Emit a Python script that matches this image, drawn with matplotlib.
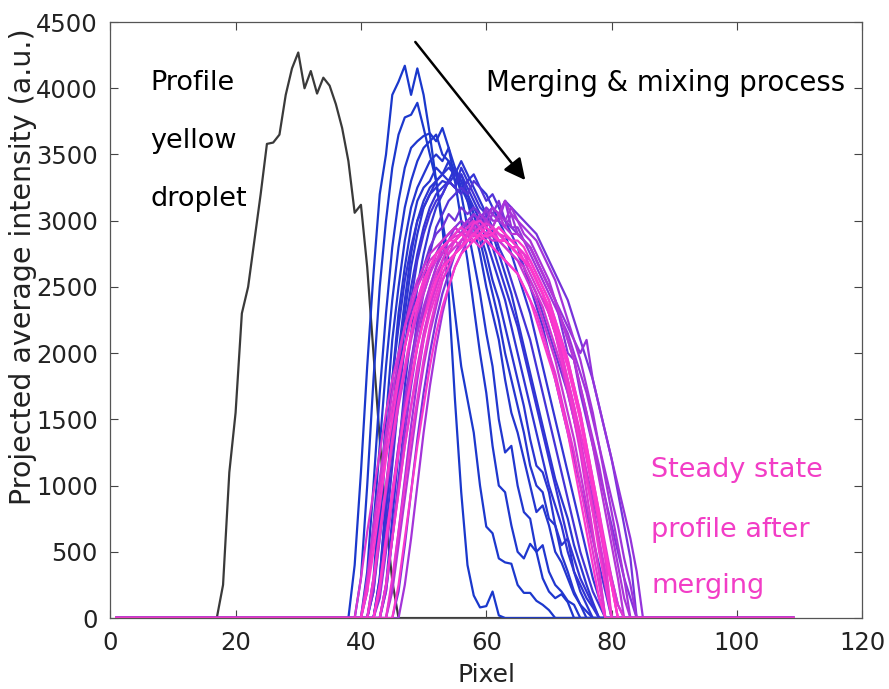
import numpy as np
import matplotlib
matplotlib.use("Agg")
import matplotlib.pyplot as plt
from matplotlib.colors import LinearSegmentedColormap
from matplotlib.patches import FancyArrowPatch

# ---------------- data ----------------
pixels = np.arange(1, 110)

# yellow droplet profile (nonzero part starts at pixel 17)
black_start = 17
black_vals = [0, 250, 1100, 1550, 2300, 2500, 2850, 3200, 3580, 3590, 3650, 3950,
              4150, 4270, 4000, 4130, 3960, 4080, 4020, 3880, 3700, 3450, 3060,
              3120, 2650, 2000, 1350, 750, 280, 0]

# merging & mixing profiles (values from the start pixel on)
c00 = [0, 400, 1100, 1900, 2600, 3200, 3500, 3950, 4050, 4170, 3950, 4150, 3950, 3650,
       3300, 2950, 2450, 1650, 950, 400, 170, 80, 90, 200, 20, 0]
c01 = [0, 300, 1000, 1800, 2500, 3000, 3400, 3650, 3780, 3800, 3890, 3700, 3500, 3300,
       3000, 2700, 2300, 1900, 1650, 1400, 1000, 690, 640, 450, 420, 410, 250, 190, 190,
       130, 100, 60, 0]
c02 = [0, 350, 1000, 1700, 2300, 2800, 3150, 3400, 3550, 3600, 3640, 3660, 3600, 3700,
       3550, 3300, 3000, 2700, 2350, 2000, 1700, 1300, 1000, 950, 700, 500, 450, 560, 500,
       300, 200, 150, 180, 120, 0]
c03 = [0, 200, 700, 1300, 1900, 2400, 2800, 3100, 3300, 3450, 3550, 3600, 3650, 3500,
       3450, 3380, 3200, 2950, 2700, 2450, 2150, 1900, 1500, 1250, 1300, 1000, 800, 750,
       500, 550, 350, 250, 200, 130, 100, 0]
c04 = [0, 300, 900, 1500, 2100, 2500, 2850, 3100, 3250, 3350, 3450, 3500, 3450, 3550,
       3400, 3300, 3150, 2950, 2750, 2500, 2300, 2100, 1800, 1550, 1400, 1200, 1000, 800,
       850, 700, 500, 420, 300, 180, 100, 0]
c05 = [0, 200, 700, 1300, 1800, 2300, 2650, 2950, 3150, 3250, 3300, 3400, 3350, 3450,
       3300, 3350, 3200, 3050, 2850, 2650, 2450, 2250, 2000, 1800, 1600, 1400, 1150, 1000,
       950, 750, 700, 480, 350, 200, 100, 50, 0]
c06 = [0, 300, 900, 1500, 2000, 2400, 2750, 3000, 3150, 3250, 3300, 3350, 3300, 3400,
       3250, 3150, 3050, 2900, 2750, 2550, 2400, 2200, 2000, 1800, 1600, 1350, 1150, 1100,
       950, 700, 550, 600, 350, 200, 100, 0]
c07 = [0, 250, 750, 1300, 1800, 2200, 2550, 2800, 3000, 3100, 3200, 3250, 3300, 3280,
       3350, 3300, 3200, 3100, 3000, 2850, 2700, 2550, 2400, 2200, 2000, 1800, 1600, 1400,
       1200, 1000, 850, 700, 500, 350, 250, 150, 80, 0]
c08 = [0, 250, 800, 1300, 1800, 2200, 2500, 2750, 2950, 3100, 3200, 3250, 3300, 3250,
       3350, 3250, 3150, 3050, 2950, 2800, 2650, 2500, 2350, 2200, 2000, 1800, 1600, 1400,
       1200, 1000, 800, 600, 450, 300, 200, 100, 0]
c09 = [0, 200, 650, 1150, 1650, 2050, 2400, 2700, 2900, 3050, 3150, 3200, 3300, 3250,
       3200, 3300, 3200, 3100, 3050, 2950, 2800, 2700, 2550, 2400, 2250, 2100, 1900, 1700,
       1500, 1300, 1100, 900, 700, 500, 350, 200, 100, 0]
c10 = [0, 200, 600, 1000, 1400, 1750, 2050, 2300, 2500, 2650, 2800, 2900, 2950, 3050,
       3000, 3100, 3050, 3100, 3050, 3000, 2950, 2900, 2850, 2800, 2750, 2650, 2550, 2450,
       2300, 2150, 2000, 1850, 1700, 1500, 1300, 1100, 900, 700, 500, 300, 100, 0]
c11 = [0, 150, 500, 900, 1300, 1650, 1950, 2200, 2450, 2600, 2750, 2850, 2900, 2950,
       3000, 2950, 3050, 3000, 3100, 3050, 3150, 3000, 2950, 2900, 2850, 2800, 2700, 2600,
       2500, 2400, 2200, 2000, 1950, 1700, 1500, 1300, 1100, 900, 700, 500, 300, 150, 0]
c12 = [0, 200, 600, 1000, 1400, 1750, 2050, 2300, 2500, 2650, 2800, 2850, 2950, 2900,
       3000, 3050, 3000, 3080, 3000, 3000, 3150, 2950, 2950, 2850, 2800, 2700, 2600, 2500,
       2400, 2300, 2200, 2100, 2000, 2100, 1800, 1600, 1400, 1200, 1000, 800, 600, 350, 0]
c13 = [0, 250, 650, 1050, 1450, 1800, 2100, 2350, 2550, 2700, 2800, 2850, 2900, 2950,
       2900, 3000, 2950, 3050, 3000, 2950, 3050, 2900, 2850, 2750, 2650, 2550, 2450, 2350,
       2250, 2150, 2000, 1850, 1700, 1500, 1300, 1100, 900, 700, 450, 250, 0]
c14 = [0, 250, 600, 950, 1300, 1600, 1900, 2150, 2350, 2500, 2650, 2750, 2850, 2900,
       2950, 3000, 2950, 3050, 3000, 3100, 3050, 3150, 3050, 3000, 2900, 2850, 2750, 2650,
       2550, 2400, 2250, 2100, 1950, 1750, 1550, 1350, 1150, 900, 650, 400, 150, 0]
c15 = [0, 300, 700, 1050, 1400, 1700, 1950, 2200, 2400, 2550, 2650, 2750, 2800, 2850,
       2900, 2950, 2900, 2950, 3000, 2950, 2900, 2900, 2850, 2800, 2750, 2700, 2600, 2500,
       2400, 2250, 2100, 1950, 1750, 1550, 1350, 1100, 850, 600, 350, 0]
c16 = [0, 250, 600, 950, 1300, 1600, 1850, 2100, 2300, 2450, 2600, 2700, 2750, 2800,
       2850, 2900, 2880, 2950, 2900, 2880, 2850, 2850, 2800, 2750, 2700, 2650, 2550, 2450,
       2350, 2200, 2050, 1900, 1700, 1500, 1300, 1050, 800, 550, 300, 0]
c17 = [0, 300, 650, 950, 1250, 1550, 1800, 2000, 2200, 2350, 2500, 2600, 2700, 2750,
       2800, 2850, 2880, 2900, 2920, 2900, 2950, 2900, 2880, 2850, 2850, 2800, 2750, 2700,
       2650, 2550, 2450, 2300, 2150, 1950, 1750, 1500, 1250, 950, 650, 350, 0]
c18 = [0, 200, 550, 900, 1250, 1550, 1800, 2050, 2250, 2450, 2600, 2700, 2800, 2850,
       2900, 2950, 3000, 2950, 2980, 2950, 2900, 2880, 2850, 2800, 2750, 2700, 2600, 2500,
       2400, 2250, 2100, 1950, 1750, 1550, 1300, 1050, 800, 550, 300, 100, 0]
c19 = [0, 250, 600, 950, 1300, 1600, 1850, 2050, 2250, 2400, 2550, 2650, 2700, 2800,
       2750, 2850, 2800, 2900, 2850, 2800, 2850, 2800, 2750, 2700, 2650, 2600, 2500, 2400,
       2300, 2150, 2000, 1850, 1650, 1450, 1250, 1000, 750, 500, 250, 0]
c20 = [0, 250, 600, 950, 1300, 1600, 1850, 2100, 2300, 2450, 2600, 2700, 2750, 2800,
       2850, 2900, 2950, 2900, 2950, 2900, 2850, 2800, 2800, 2750, 2650, 2550, 2450, 2300,
       2150, 2000, 1800, 1600, 1400, 1200, 950, 700, 450, 250, 0]
c21 = [0, 300, 650, 1000, 1350, 1650, 1900, 2150, 2350, 2500, 2650, 2750, 2800, 2850,
       2900, 2950, 2900, 2980, 3000, 2950, 2900, 2950, 2900, 2850, 2800, 2700, 2650, 2550,
       2450, 2300, 2150, 1950, 1750, 1550, 1300, 1050, 800, 500, 250, 0]
c22 = [0, 200, 500, 850, 1200, 1500, 1800, 2050, 2250, 2400, 2550, 2650, 2750, 2800,
       2850, 2850, 2900, 2850, 2900, 2880, 2850, 2800, 2750, 2700, 2650, 2600, 2500, 2400,
       2250, 2100, 1950, 1800, 1600, 1400, 1150, 900, 650, 400, 150, 0]
c23 = [0, 250, 600, 950, 1250, 1550, 1800, 2050, 2250, 2400, 2550, 2650, 2700, 2750,
       2800, 2850, 2850, 2900, 2880, 2900, 2850, 2850, 2800, 2750, 2700, 2650, 2550, 2450,
       2350, 2200, 2050, 1900, 1700, 1500, 1250, 1000, 750, 500, 250, 0]
c24 = [0, 300, 850, 1400, 1900, 2300, 2650, 2900, 3100, 3200, 3300, 3350, 3400, 3350,
       3450, 3350, 3250, 3150, 3050, 2900, 2750, 2600, 2450, 2250, 2050, 1850, 1650, 1450,
       1250, 1050, 900, 750, 550, 400, 250, 120, 0]
c25 = [0, 250, 750, 1250, 1750, 2150, 2500, 2750, 2950, 3100, 3200, 3300, 3250, 3400,
       3300, 3350, 3250, 3200, 3100, 3000, 2900, 2750, 2600, 2450, 2300, 2100, 1900, 1700,
       1500, 1300, 1100, 900, 700, 500, 300, 150, 0]
c26 = [0, 200, 600, 1050, 1500, 1900, 2250, 2550, 2750, 2950, 3050, 3150, 3200, 3250,
       3200, 3300, 3250, 3150, 3200, 3100, 3000, 2900, 2800, 2650, 2500, 2350, 2200, 2000,
       1800, 1600, 1400, 1200, 1000, 800, 600, 400, 200, 0]
c27 = [0, 200, 550, 950, 1350, 1700, 2000, 2250, 2450, 2600, 2750, 2850, 2900, 3000,
       2950, 3050, 3100, 3050, 3150, 3100, 3050, 3000, 2950, 2900, 2800, 2700, 2600, 2500,
       2400, 2250, 2100, 1950, 1800, 1600, 1400, 1200, 950, 700, 450, 0]
c28 = [0, 250, 600, 1000, 1400, 1750, 2050, 2300, 2500, 2650, 2750, 2850, 2900, 2950,
       3000, 2950, 3050, 3000, 3100, 3000, 2950, 2900, 2850, 2750, 2650, 2550, 2400, 2250,
       2100, 1950, 1750, 1550, 1300, 1050, 800, 550, 300, 0]
c29 = [0, 200, 550, 900, 1250, 1600, 1900, 2150, 2350, 2550, 2650, 2750, 2850, 2900,
       2950, 2900, 3000, 2950, 3050, 2950, 2900, 2900, 2850, 2800, 2700, 2600, 2500, 2400,
       2250, 2100, 1950, 1750, 1550, 1300, 1050, 800, 550, 300, 0]
c30 = [0, 250, 600, 950, 1300, 1600, 1900, 2150, 2350, 2500, 2650, 2750, 2800, 2850,
       2900, 2880, 2950, 2900, 2950, 2850, 2850, 2800, 2750, 2700, 2600, 2500, 2400, 2300,
       2150, 2000, 1800, 1600, 1350, 1100, 850, 600, 350, 0]
c31 = [0, 300, 650, 1000, 1350, 1650, 1950, 2200, 2400, 2550, 2650, 2750, 2800, 2850,
       2900, 2850, 2900, 2950, 2900, 2850, 2800, 2800, 2750, 2650, 2550, 2450, 2350, 2200,
       2050, 1900, 1700, 1500, 1250, 1000, 750, 450, 0]
c32 = [0, 250, 600, 950, 1300, 1600, 1900, 2150, 2350, 2500, 2650, 2750, 2800, 2850,
       2900, 2950, 2900, 2950, 2900, 2850, 2850, 2800, 2700, 2600, 2500, 2400, 2250, 2100,
       1950, 1750, 1550, 1300, 1050, 800, 500, 250, 0]

profile_values = [c00, c01, c02, c03, c04, c05, c06, c07, c08, c09, c10, c11,
                  c12, c13, c14, c15, c16, c17, c18, c19, c20, c21, c22, c23,
                  c24, c25, c26, c27, c28, c29, c30, c31, c32]
profile_starts = [38, 39, 40, 40, 41, 41, 42, 41, 42, 42, 41, 42,
                  43, 44, 42, 40, 41, 39, 42, 40, 43, 41, 40, 42,
                  42, 43, 43, 45, 46, 44, 43, 44, 45]
profile_phase = [0.00, 0.03, 0.06, 0.09, 0.12, 0.15, 0.20, 0.26, 0.32, 0.38, 0.50, 0.55,
                 0.60, 0.64, 0.68, 0.78, 0.82, 0.86, 0.88, 0.90, 0.93, 0.95, 0.98, 1.00,
                 0.22, 0.30, 0.42, 0.52, 0.66, 0.72, 0.84, 0.92, 0.97]

xticks = [0, 20, 40, 60, 80, 100, 120]
yticks = [0, 500, 1000, 1500, 2000, 2500, 3000, 3500, 4000, 4500]


def full_profile(start, vals):
    y = np.zeros(len(pixels))
    i0 = start - pixels[0]
    y[i0:i0 + len(vals)] = vals
    return y


# ---------------- figure ----------------
plt.rcParams['font.family'] = ['DejaVu Sans']
fig = plt.figure(figsize=(8.89, 6.89), dpi=100)
ax = fig.add_axes([0.124, 0.103, 0.846, 0.865])

cmap = LinearSegmentedColormap.from_list(
    "merge", [(0.0, (0.10, 0.22, 0.80)), (0.35, (0.22, 0.20, 0.84)),
              (0.6, (0.58, 0.20, 0.86)), (1.0, (1.00, 0.22, 0.80))])

ax.plot(pixels, full_profile(black_start, black_vals), color='#3a3a3a', lw=1.6, zorder=1)
order = sorted(range(len(profile_values)), key=lambda k: profile_phase[k])
for k in order:
    ax.plot(pixels, full_profile(profile_starts[k], profile_values[k]),
            color=cmap(profile_phase[k]), lw=1.6, zorder=2)

ax.set_xlim(0, 120)
ax.set_ylim(0, 4500)
ax.set_xticks(xticks)
ax.set_yticks(yticks)
ax.tick_params(direction='in', top=True, right=True, length=6, width=0.8,
               color='#444444', labelsize=17.5, labelcolor='#222222', pad=9)
for sp in ax.spines.values():
    sp.set_color('#555555')
    sp.set_linewidth(0.9)

ax.set_xlabel('Pixel', fontsize=18, color='#222222', labelpad=6)
ax.set_ylabel('Projected average intensity (a.u.)', fontsize=20.5, color='#222222')
ax.yaxis.set_label_coords(-0.097, 0.59)

# annotations
for txt, yy in [('Profile', 4040), ('yellow', 3600), ('droplet', 3165)]:
    ax.text(6.4, yy, txt, fontsize=19.5, color='black', va='center', ha='left')
ax.text(60.0, 4040, 'Merging & mixing process', fontsize=19.8, color='black',
        va='center', ha='left')
for txt, yy in [('Steady state', 1120), ('profile after', 665), ('merging', 240)]:
    ax.text(86.3, yy, txt, fontsize=19.5, color='#F23DC6', va='center', ha='left')

arrow = FancyArrowPatch((48.4, 4366), (66.5, 3290), arrowstyle='-|>',
                        mutation_scale=32, color='black', lw=1.8, zorder=5)
ax.add_patch(arrow)

fig.savefig('out.png', dpi=100)
